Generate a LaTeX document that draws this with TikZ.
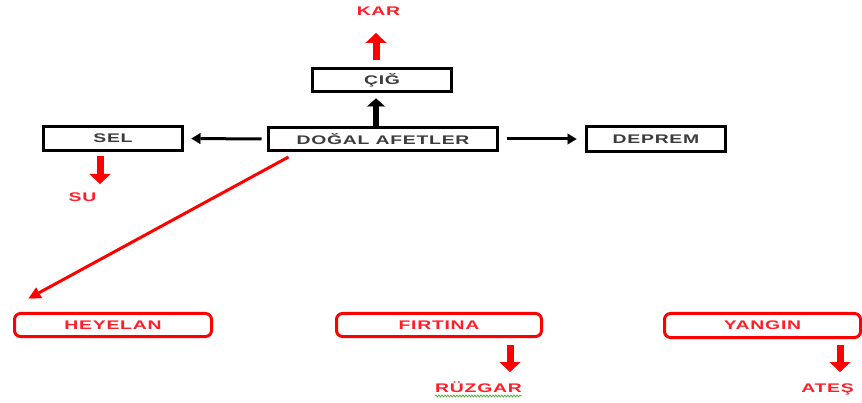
\documentclass[tikz,border=0pt]{standalone}
\usepackage{fontspec}
\usetikzlibrary{arrows.meta,decorations.pathmorphing}
\newfontfamily\lblfont[FakeStretch=1.55,LetterSpace=6]{Liberation Sans}
\definecolor{txtgray}{RGB}{60,60,60}
\definecolor{redtxt}{RGB}{255,30,40}
\definecolor{squig}{RGB}{80,170,60}
\begin{document}
\begin{tikzpicture}[x=1pt,y=-1pt,
  lbl/.style={font=\lblfont\bfseries\fontsize{12.5}{14}\selectfont},
  blkbox/.style={lbl,draw=black,line width=3pt,minimum width=139pt,minimum height=23pt,inner sep=0pt,text=txtgray},
  redbox/.style={lbl,draw=red,line width=3pt,rounded corners=6pt,minimum height=23pt,inner sep=0pt,text=redtxt},
  redlbl/.style={lbl,anchor=base,inner sep=0pt,text=redtxt},
  bigred/.style={draw=red,line width=7pt,-{Triangle[width=21pt,length=10pt,line width=0.1pt]}},
  bigblk/.style={draw=black,line width=6pt,-{Triangle[width=18pt,length=8pt,line width=0.1pt]}},
  sideblk/.style={draw=black,line width=3pt,-{Triangle[width=11pt,length=9pt,line width=0.1pt]}},
  thinred/.style={draw=red,line width=3pt,-{Triangle[width=12pt,length=12pt,line width=0.1pt]}}]
\useasboundingbox (0,0) rectangle (862,403);
% boxes
\node[blkbox] (cig) at (382,80) {ÇIĞ};
\node[blkbox,minimum width=229pt] (dogal) at (383,139) {DOĞAL AFETLER};
\node[blkbox,minimum height=24pt] (sel) at (113,138.5) {SEL};
\node[blkbox,minimum height=25pt] (deprem) at (656,139) {DEPREM};
\node[redbox,minimum width=197pt] (heyelan) at (113,325) {HEYELAN};
\node[redbox,minimum width=205pt] (firtina) at (439,325) {FIRTINA};
\node[redbox,minimum width=196pt,minimum height=24pt] (yangin) at (762.5,325.5) {YANGIN};
% red labels
\node[redlbl] (kar) at (378.5,16) {KAR};
\node[redlbl] (su) at (82.5,202) {SU};
\node[redlbl] (rz) at (478.5,392) {RÜZGAR};
\node[redlbl] (ates) at (827.5,392) {ATEŞ};
% connectors
\draw[bigblk,shorten >=5.5pt] ([xshift=-7pt]dogal.north) -- ([xshift=-6pt]cig.south);
\draw[bigred,shorten <=6.5pt,shorten >=17pt] ([xshift=-6pt]cig.north) -- ([xshift=-6pt]cig.north |- kar.base);
\draw[sideblk,shorten <=5.5pt,shorten >=7.5pt] (dogal.west) -- (sel.east);
\draw[sideblk,shorten <=7.5pt,shorten >=8.5pt] (dogal.east) -- (deprem.west);
\draw[bigred,shorten <=4pt,shorten >=18pt] ([xshift=-13pt]sel.south) -- ([xshift=-13pt]sel.south |- su.base);
\draw[thinred] ([xshift=21.5pt,yshift=-5pt]dogal.south west) -- ([xshift=15.5pt,yshift=13.5pt]heyelan.north west);
\draw[bigred,shorten <=6.5pt,shorten >=20pt] ([xshift=71pt]firtina.south) -- ([xshift=71pt]firtina.south |- rz.base);
\draw[bigred,shorten <=5.5pt,shorten >=20pt] ([xshift=77.5pt]yangin.south) -- ([xshift=77.5pt]yangin.south |- ates.base);
\draw[squig,line width=0.8pt,decorate,decoration={snake,amplitude=0.9pt,segment length=3pt}] ([yshift=-4pt]rz.base west) -- ([yshift=-4pt]rz.base east);
\end{tikzpicture}
\end{document}
